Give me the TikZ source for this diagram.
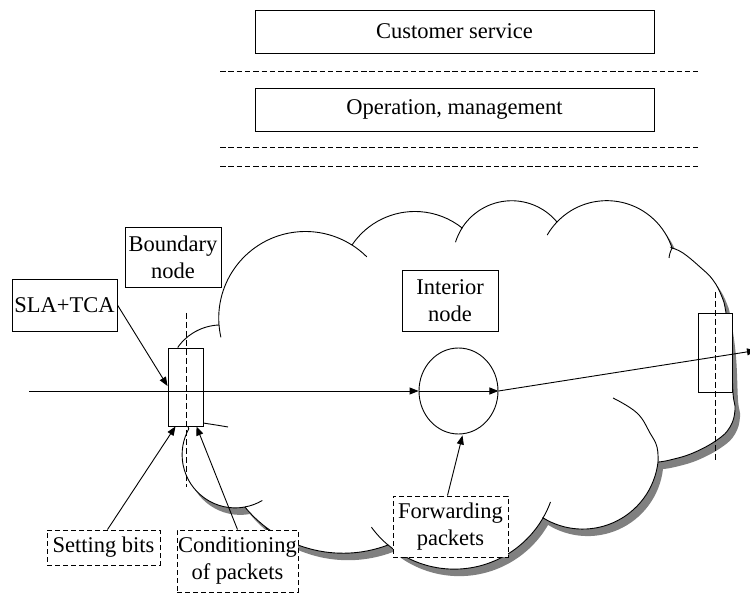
\documentclass[tikz,border=0pt]{standalone}
\usepackage{fontspec}
\setmainfont{Liberation Serif}
\usetikzlibrary{arrows.meta,shapes.geometric,calc}
\def\cloudshape{(178,347) arc[start angle=215.8,end angle=267.7,radius=53.1]
 -- (219,325) arc[start angle=175.5,end angle=302.4,radius=86.7]
 -- (352,245) arc[start angle=213.9,end angle=308.5,radius=75.8]
 -- (462,228) arc[start angle=212.5,end angle=320.2,radius=58.9]
 -- (557,222) arc[start angle=223.6,end angle=341.9,radius=68.7]
 -- plot[smooth,tension=0.7] coordinates {(672,248) (683,253) (700,267) (713,280) (722,297) (726,313) (731,350) (733,393) (735,410) (730,427) (717,440) (693,453) (670,460) (658,462)}
 -- (658,462) arc[start angle=6.6,end angle=121.6,radius=75.8]
 -- (543,518) arc[start angle=30.1,end angle=130.2,radius=102.6]
 -- (388,545) arc[start angle=69.3,end angle=140.4,radius=127.3]
 -- (245,507) arc[start angle=79.5,end angle=209,radius=53.2]
 -- (180,400) -- cycle}
\begin{document}
\begin{tikzpicture}[x=1pt,y=-1pt,line width=0.9pt,
  box/.style={draw,fill=white,inner sep=0pt,align=center,font=\fontsize{22.5}{27}\selectfont},
  dbox/.style={box,dash pattern=on 5pt off 3pt},
  plainrect/.style={draw,fill=white,inner sep=0pt},
  arr/.style={-{Triangle[length=9pt,width=7pt]}},
  hdash/.style={dash pattern=on 5.5pt off 2.8pt},
  vdash/.style={dash pattern=on 6pt off 3pt},
  tick/.style={smooth,tension=0.7}]
\clip (0,0) rectangle (750,593);
\fill[white] (0,0) rectangle (750,593);

% top layers
\node[box,minimum width=399pt,minimum height=43pt] (cs) at (454.5,31.5) {Customer service};
\node[box,minimum width=399pt,minimum height=43pt] (om) at (454.5,109.5) {Operation, management};
\draw[hdash] (220,71) -- (698,71);
\draw[hdash] (220,147) -- (698,147);
\draw[hdash] (220,166) -- (698,166);

% shadow of cloud
\begin{scope}[shift={(5,7)}]
\fill[black!50] \cloudshape;
\end{scope}

% second conditioning line (partly hidden by the cloud)
\coordinate (c2from) at (267.5,530);
\coordinate (c2to) at (196.5,426);
\draw (c2from) -- (c2to);

% cloud
\filldraw[fill=white] \cloudshape;
\draw (220.9,337.3) arc[start angle=167.3,end angle=175.5,radius=86.7];
\draw (352,245) arc[start angle=302.4,end angle=315,radius=86.7];
\draw (455.5,242.2) arc[start angle=197.3,end angle=212.5,radius=58.9];
\draw (547.2,235.05) arc[start angle=210,end angle=223.6,radius=68.7];
\draw plot[tick] coordinates {(672,248) (670,253) (669,258)};
\draw plot[tick] coordinates {(658,462) (657,447) (650,433) (637,413) (613,398)};
\draw (550.5,502) arc[start angle=20.2,end angle=30.1,radius=102.6];
\draw (388,545) arc[start angle=130.2,end angle=143.8,radius=102.6];
\draw (262.3,500.5) arc[start angle=59.5,end angle=79.5,radius=53.2];
\draw plot[tick] coordinates {(203,423) (216,425) (228,427)};

% nodes
\node[box,minimum width=96pt,minimum height=60pt] (bn) at (173,257) {Boundary\\node};
\node[box,minimum width=105pt,minimum height=52pt] (sla) at (64.5,305) {SLA+TCA};
\node[box,minimum width=96pt,minimum height=61pt] (in) at (450,300.5) {Interior\\node};
\node[dbox,minimum width=113pt,minimum height=35pt] (set) at (103.5,547.5) {Setting bits};
\node[dbox,minimum width=121pt,minimum height=62pt] (cond) at (237.5,561) {Conditioning\\of packets};
\node[dbox,minimum width=115pt,minimum height=61pt] (fwd) at (450.5,526.5) {Forwarding\\packets};
\node[plainrect,minimum width=35pt,minimum height=78pt] (bnd) at (185.5,387) {};
\node[plainrect,minimum width=34pt,minimum height=79pt] (rr) at (715,352.5) {};
\node[draw,ellipse,minimum width=79pt,minimum height=86pt,inner sep=0pt] (circ) at (458.5,391) {};

% dashed verticals
\draw[vdash] (186,313) -- (186,487);
\draw[vdash] (715,292) -- (715,462);

% connectors
\coordinate (instart) at (29,391);
\coordinate (outend) at (756,350.5);
\draw[arr] (instart) -- (circ.west);
\draw[arr] (circ.west) -- (circ.east);
\draw[arr] (circ.east) -- (outend);
\draw[arr] (sla.east) -- ($(bnd.west)+(0,-1)$);
\draw[arr] ($(set.north)+(4,0)$) -- ($(bnd.south)+(-10,0)$);
\draw[arr] (cond.north) -- ($(bnd.south)+(11,0)$);
\draw[arr] ($(fwd.north)+(-3,0)$) -- ($(circ.south)+(4,1)$);
\end{tikzpicture}
\end{document}
